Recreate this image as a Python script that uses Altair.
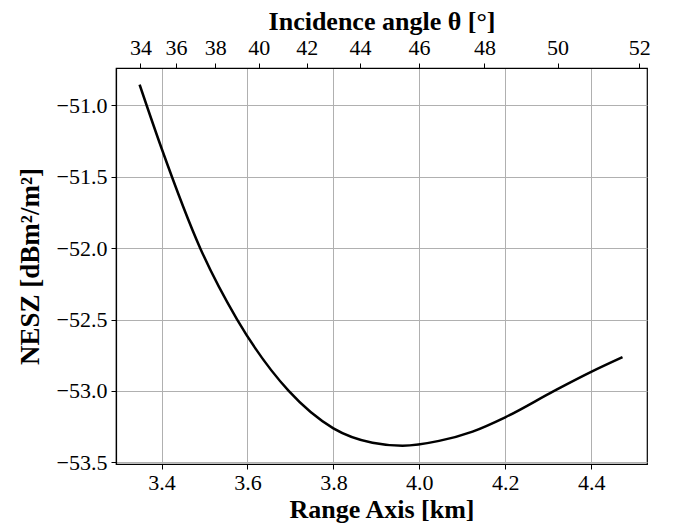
import altair as alt
import pandas as pd
import numpy as np

# ---- data ----
range_km = [3.349, 3.400, 3.490, 3.576, 3.696, 3.800, 3.891, 3.961,
            4.046, 4.124, 4.200, 4.314, 4.400, 4.473]
nesz_db = [-50.855, -51.30, -52.00, -52.50, -53.00, -53.262, -53.363, -53.384,
           -53.35, -53.285, -53.185, -53.00, -52.867, -52.764]

x_ticks = [3.4, 3.6, 3.8, 4.0, 4.2, 4.4]
y_ticks = [-51.0, -51.5, -52.0, -52.5, -53.0, -53.5]
angle_ticks = [34, 36, 38, 40, 42, 44, 46, 48, 50, 52]
height_km = 2.778  # slant range = h / cos(theta)
angle_pos = [round(height_km / np.cos(np.radians(a)), 4) for a in angle_ticks]

x_domain = [3.294, 4.53]
y_domain = [-53.512, -50.738]

df = pd.DataFrame({"r": range_km, "v": nesz_db})

FONT = "Liberation Serif"
xscale = alt.Scale(domain=x_domain, nice=False, zero=False)

line = alt.Chart(df).mark_line(color="black", strokeWidth=2.5, interpolate="monotone").encode(
    x=alt.X("r:Q", scale=xscale,
            axis=alt.Axis(title="Range Axis [km]", values=x_ticks, format=".1f",
                          grid=True, labelPadding=3, titlePadding=3, titleFontSize=26)),
    y=alt.Y("v:Q", scale=alt.Scale(domain=y_domain, nice=False, zero=False),
            axis=alt.Axis(title="NESZ [dBm²/m²]", values=y_ticks, format=".1f",
                          grid=True, labelPadding=4, titlePadding=12, titleFontSize=27)),
)

top = alt.Chart(df).mark_point(opacity=0).encode(
    x=alt.X("r:Q", scale=xscale,
            axis=alt.Axis(orient="top", title="Incidence angle θ [°]", values=angle_pos,
                          labelExpr=f"format(acos({height_km}/datum.value)*180/PI, '.0f')",
                          grid=False, labelPadding=4, titlePadding=2, titleFontSize=26)),
)

chart = alt.layer(line, top).resolve_scale(x="independent").properties(
    width=531, height=396,
    padding={"left": 108, "top": 60, "right": 13, "bottom": 63},
    autosize=alt.AutoSizeParams(type="none"),
).configure_view(stroke="black", strokeWidth=1.2).configure_axis(
    domainColor="black", domainWidth=1.2, tickColor="black", tickWidth=1, tickSize=5,
    gridColor="#b0b0b0", gridWidth=1,
    labelFont=FONT, labelFontSize=22, labelColor="black",
    titleFont=FONT, titleFontWeight="bold", titleColor="black",
)

chart.save("out.html", embed_options={"renderer": "svg", "actions": False})
